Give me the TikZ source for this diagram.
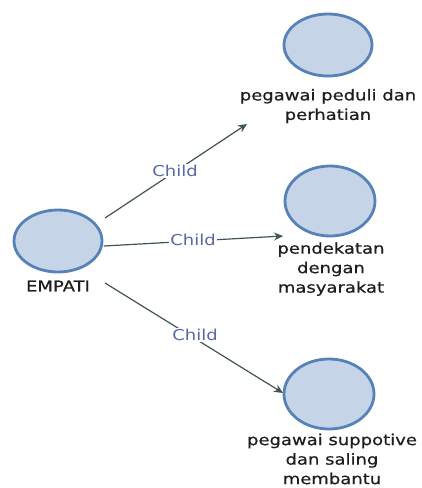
\documentclass[tikz,border=0pt]{standalone}
\usepackage{fontspec}
\newfontfamily\lab[FakeStretch=1.2,FakeBold=0.6]{DejaVu Sans}
\newfontfamily\childfont[FakeStretch=1.2]{DejaVu Sans}
\usetikzlibrary{arrows.meta,shapes.geometric}
\definecolor{circfill}{HTML}{C6D4E8}
\definecolor{circdraw}{HTML}{5682B8}
\definecolor{arr}{HTML}{3F5453}
\definecolor{childc}{HTML}{5868A8}
\definecolor{txt}{HTML}{1E1E1E}
\tikzset{
  bubble/.style={ellipse, draw=circdraw, fill=circfill, line width=2.8pt, inner sep=0pt},
  nodetext/.style={align=center, text=txt, font=\lab\fontsize{15}{19.5}\selectfont, inner sep=0pt},
  childlbl/.style={text=childc, fill=white, font=\childfont\fontsize{15}{17}\selectfont, inner sep=1pt},
  conn/.style={draw=arr, line width=1.2pt, -{Stealth[length=9pt,width=8pt]}}
}
\begin{document}
\begin{tikzpicture}[x=1pt,y=-1pt]
\useasboundingbox (0,0) rectangle (421,488);
\node[bubble, minimum width=88pt, minimum height=62pt] (e0) at (58,241) {};
\node[bubble, minimum width=88pt, minimum height=62pt] (n1) at (328,45) {};
\node[bubble, minimum width=90pt, minimum height=70pt] (n2) at (330,201) {};
\node[bubble, minimum width=90pt, minimum height=70pt] (n3) at (329,394) {};
\node[nodetext] (l0) at (58,286) {EMPATI};
\node[nodetext] (l1) at (328,106) {pegawai peduli dan\\perhatian};
\node[nodetext] (l2) at (331,269) {pendekatan\\dengan\\masyarakat};
\node[nodetext] (l3) at (332,459) {pegawai suppotive\\dan saling\\membantu};
\coordinate (a1s) at (105,218);
\coordinate (a1e) at (247,124);
\coordinate (a2s) at (104,246);
\coordinate (a2e) at (283,236);
\coordinate (a3s) at (105,283);
\coordinate (a3e) at (283,393);
\draw[conn] (a1s) -- (a1e);
\draw[conn] (a2s) -- (a2e);
\draw[conn] (a3s) -- (a3e);
\node[childlbl] (c1) at (175,171) {Child};
\node[childlbl] (c2) at (193,240) {Child};
\node[childlbl] (c3) at (195,335) {Child};
\end{tikzpicture}
\end{document}
